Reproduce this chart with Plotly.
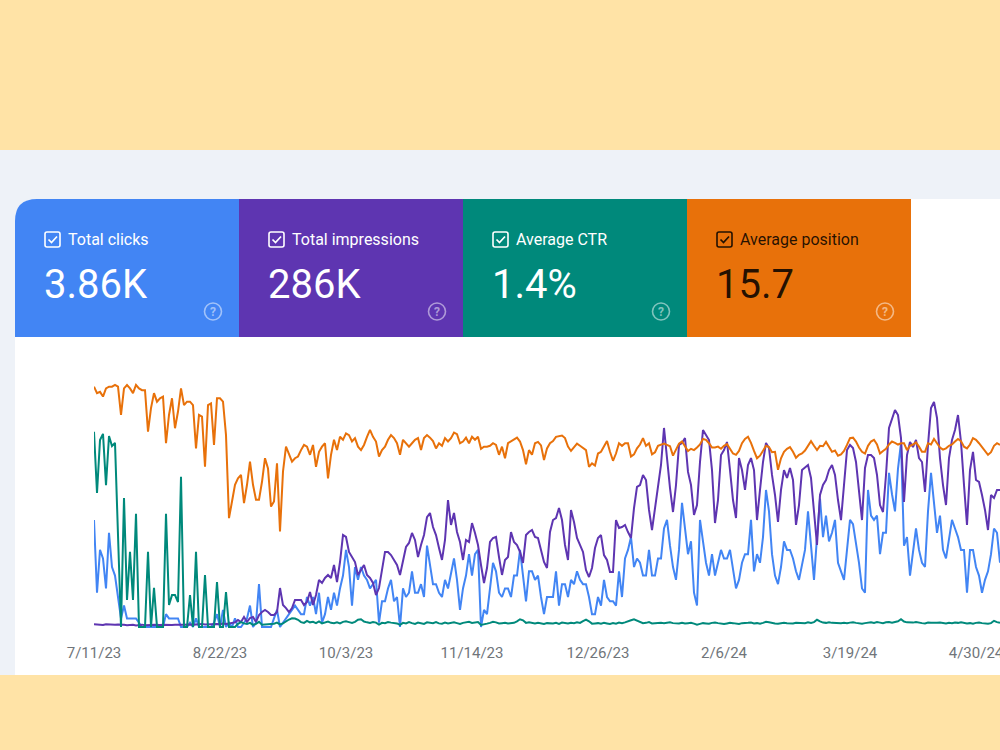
import pandas as pd
import plotly.graph_objects as go

# ---------------- data (daily, starting 7/11/23) ----------------
START_DATE = "2023-07-11"
END_DATE = "2024-05-08"

clicks = [
    25, 8, 18, 16, 9, 22, 14, 12, 7, 2,
    5, 2, 2, 2, 2, 1, 0, 0, 0, 0,
    0, 0, 0, 0, 3, 2, 2, 2, 2, 0,
    0, 0, 1, 0, 2, 0, 0, 0, 0, 0,
    1, 3, 0, 4, 0, 1, 0, 2, 0, 0,
    1, 2, 5, 0, 1, 10, 0, 0, 0, 0,
    2, 4, 0, 1, 2, 3, 4, 5, 4, 3,
    3, 7, 5, 7, 3, 8, 1, 3, 7, 4,
    8, 5, 9, 12, 18, 14, 5, 14, 11, 14,
    12, 11, 9, 10, 11, 1, 6, 6, 9, 11,
    6, 7, 0, 9, 7, 8, 13, 8, 8, 10,
    7, 19, 14, 10, 10, 8, 7, 11, 9, 13,
    16, 11, 4, 9, 12, 17, 12, 17, 18, 0,
    4, 3, 9, 15, 13, 8, 7, 9, 9, 7,
    12, 12, 18, 12, 6, 13, 13, 11, 12, 7,
    3, 7, 7, 7, 13, 5, 10, 10, 7, 11,
    10, 13, 11, 10, 10, 7, 3, 3, 7, 5,
    11, 7, 6, 6, 5, 13, 7, 16, 18, 21,
    14, 16, 15, 12, 12, 18, 12, 12, 16, 16,
    23, 25, 19, 14, 11, 18, 29, 23, 17, 20,
    8, 5, 25, 20, 15, 12, 17, 12, 15, 18,
    16, 16, 18, 13, 9, 11, 15, 17, 17, 25,
    13, 17, 15, 21, 32, 27, 17, 12, 10, 14,
    20, 18, 18, 16, 13, 11, 15, 18, 27, 18,
    11, 21, 30, 21, 26, 20, 22, 25, 15, 13,
    11, 18, 25, 24, 20, 15, 9, 8, 32, 26,
    25, 26, 17, 22, 22, 36, 31, 27, 37, 43,
    19, 21, 12, 18, 23, 18, 15, 14, 27, 36,
    28, 22, 26, 18, 16, 20, 25, 23, 21, 18,
    18, 8, 18, 18, 14, 12, 8, 11, 13, 17,
    23, 22, 15,
]

impressions = [
    25, 22, 24, 18, 26, 22, 17, 20, 24, 19,
    21, 17, 19, 20, 15, 19, 22, 17, 15, 19,
    20, 17, 19, 22, 20, 17, 19, 21, 24, 20,
    22, 26, 24, 20, 22, 26, 29, 24, 27, 26,
    31, 29, 26, 33, 28, 35, 38, 43,
    65, 47, 93, 47, 84, 93, 47, 112, 140, 159,
    140, 112, 112, 140, 364, 205, 177, 140, 177, 252,
    252, 252, 205, 234, 327, 205, 299, 439, 411, 458,
    486, 458, 579, 420, 607, 859, 841, 701, 654, 607,
    486, 532, 579, 486, 458, 411, 299, 364, 514, 701,
    701, 672, 626, 579, 486, 626, 747, 785, 878, 813,
    654, 766, 859, 1027, 1065, 934, 859, 738, 626, 813,
    1186, 953, 1065, 887, 794, 626, 813, 794, 971, 878,
    766, 579, 411, 551, 794, 831, 841, 654, 486, 626,
    654, 887, 794, 766, 701, 598, 859, 887, 906, 841,
    831, 719,
    607, 551, 887, 999, 1018, 1111, 999, 766, 626, 1093,
    981, 831, 766, 701, 532, 467, 551, 738, 831, 859,
    672, 626, 514, 514, 999, 925, 934, 953, 887, 831,
    1111, 1308, 1326, 1420, 1373, 1093, 906, 1111, 1280, 1513,
    1859, 1560, 1298, 1074, 1326, 1700, 1719, 1765,
    1448, 1326, 1046, 1139, 1541, 1840, 1793, 1747, 1466, 971,
    1186, 1606, 1653, 1728, 1466, 1186, 1018, 1578, 1466, 1280,
    1513, 1578, 1466, 999, 1280, 1541, 1719, 1672, 1420, 1233,
    981, 1280, 1466, 1392, 1485, 1373, 953, 1139, 1466, 1494,
    1513, 1392, 1046, 766, 1233, 1326, 1373, 1466, 1513, 1420,
    1186, 999, 1326, 1653, 1700, 1672, 1541, 1298, 999, 1485,
    1606, 1606, 1578, 1420, 1139, 1074, 1420, 1859, 1952, 2027,
    1980, 1765, 1168, 1606, 1728, 1681, 1747, 1578, 1541, 1261,
    1700, 2045, 2102, 1952, 1578, 1326, 1139, 1578, 1747, 1840,
    1980, 1728, 1326, 953, 1466, 1635, 1373, 1355, 1233, 1093,
    906, 1233, 1205, 1280, 1280,
]

ctr = [
    75.9, 52.1, 72.7, 75.1, 55.2, 74.3, 70.4, 71.6, 35.8, 0,
    50.2, 10.5, 29.2, 10.5, 44.0, 0, 0, 0, 29.2, 0,
    15.2, 0, 0, 0, 44.0, 8.6, 12.4, 12.4, 9.7, 58.4,
    0, 0, 12.4, 0, 29.2, 0, 0, 20.2, 0, 0,
    0, 17.5, 0, 0, 13.6, 0, 0, 0, 1.2, 1.9,
    1.4, 1.2, 1.6, 0.8, 1.2, 2.0, 0.9, 1.0, 1.1, 1.2,
    1.3, 1.7, 1.0, 1.4, 2.2, 2.9, 3.4, 3.3, 2.8, 1.9,
    1.6, 2.4, 1.8, 2.0, 1.5, 2.2, 1.4, 1.7, 2.1, 1.6,
    1.5, 1.8, 1.4, 2.0, 2.2, 1.9, 1.6, 2.0, 2.8, 3.0,
    2.1, 1.8, 1.6, 1.9, 1.7, 0.9, 1.6, 1.5, 1.9, 1.7,
    1.5, 1.4, 0.8, 1.6, 1.4, 1.9, 1.5, 1.2, 1.7, 1.4,
    1.2, 1.8, 1.6, 1.5, 1.9, 1.4, 1.3, 1.7, 1.4, 1.6,
    1.8, 1.5, 1.2, 1.6, 1.7, 2.0, 1.6, 1.8, 1.9, 0.8,
    1.2, 1.3, 1.6, 2.0, 1.8, 1.4, 1.5, 1.6, 1.4, 1.5,
    1.6, 2.2, 3.0, 2.6, 1.6, 1.8, 1.5, 1.4, 1.6, 1.3,
    1.2, 1.5, 1.3, 1.4, 1.6, 1.2, 1.7, 1.5, 1.4, 1.6,
    1.5, 1.8, 1.6, 2.3, 2.9, 2.2, 1.3, 1.4, 1.5, 1.3,
    1.6, 1.4, 1.2, 1.5, 1.3, 1.7, 1.5, 1.8, 2.1, 2.6,
    3.0, 2.5, 1.8, 1.5, 1.6, 1.9, 1.4, 1.5, 1.7, 1.6,
    1.5, 1.6, 1.8, 1.5, 1.3, 1.4, 1.6, 1.4, 1.5, 1.6,
    1.3, 0.9, 1.2, 1.5, 1.4, 1.3, 1.6, 1.7, 1.5, 1.3,
    1.2, 1.4, 1.6, 1.5, 1.3, 1.2, 1.5, 1.7, 1.6, 1.7,
    1.4, 1.5, 1.3, 1.6, 2.0, 1.8, 1.5, 1.4, 1.3, 1.5,
    1.6, 1.5, 1.3, 1.4, 1.6, 1.5, 1.4, 1.5, 1.8, 1.6,
    1.9, 2.8, 2.2, 1.7, 1.6, 1.8, 1.6, 1.5, 1.4, 1.5,
    1.6, 1.5, 1.7, 1.8, 1.6, 1.4, 1.3, 1.5, 1.7, 1.8,
    1.6, 1.9, 1.7, 1.5, 1.8, 1.9, 1.7, 2.0, 2.2, 3.0,
    2.1, 1.8, 1.6, 1.7, 1.9, 1.6, 1.5, 1.4, 1.7, 1.6,
    1.5, 1.6, 1.7, 1.5, 1.4, 1.6, 1.5, 1.7, 1.6, 1.8,
    1.6, 1.4, 1.5, 1.3, 1.6, 1.7, 1.5, 1.4, 1.3, 1.5,
    2.4, 1.9, 1.6,
]

position = [
    3.9, 5.4, 5.1, 6.2, 4.3, 3.9, 3.9, 3.5, 3.9, 10.5,
    4.3, 3.5, 4.3, 5.4, 3.5, 4.3, 4.7, 4.7, 14.4, 8.9,
    5.4, 7.4, 6.6, 6.2, 17.1, 10.5, 6.6, 13.6, 9.7, 4.3,
    8.2, 7.4, 7.4, 8.2, 18.3, 10.5, 10.9, 22.6, 8.2, 7.8,
    17.5, 6.6, 6.6, 7.4, 15.2, 34.6, 30.7, 26.8, 25.3, 24.5,
    31.1, 26.8, 21.4, 26.8, 30.3, 30.3, 26.1, 20.6, 23.0, 31.9,
    30.7, 21.8, 37.7, 23.7, 17.9, 19.5, 21.4, 20.6, 20.2, 18.7,
    17.5, 17.9, 19.8, 17.5, 22.6, 19.1, 17.9, 17.1, 25.3, 19.8,
    16.3, 18.7, 15.6, 16.3, 14.8, 15.2, 16.7, 15.9, 17.9, 18.7,
    17.5, 15.6, 14.0, 15.6, 16.7, 20.2, 18.7, 17.9, 16.3, 15.2,
    15.9, 17.1, 19.8, 16.3, 17.1, 17.9, 17.1, 16.3, 15.9, 18.7,
    15.9, 15.2, 15.8, 16.6, 18.3, 17.1, 17.7, 15.9, 16.7, 15.9,
    14.6, 15.0, 17.1, 16.7, 15.8, 17.1, 15.6, 16.3, 15.6, 18.4,
    17.9, 17.9, 17.7, 17.1, 17.5, 19.8, 17.9, 20.6, 17.1, 16.7,
    16.3, 15.8, 16.7, 18.7, 22.0, 18.7, 19.8, 17.1, 16.8, 17.6,
    21.0, 18.3, 17.1, 16.6, 15.6, 15.4, 15.3, 15.9, 17.9, 18.9,
    17.9, 17.2, 17.7, 18.3, 18.7, 22.6, 21.8, 22.3, 19.5, 19.1,
    17.9, 16.6, 19.1, 21.2, 19.5, 17.1, 17.7, 17.1, 17.1, 20.2,
    19.7, 18.3, 17.4, 15.9, 17.7, 17.1, 19.7, 19.2, 17.7, 17.5,
    17.2, 17.5, 17.8, 20.0, 18.4, 17.2, 16.7, 17.7, 18.9, 18.4,
    18.7, 18.1, 17.4, 16.1, 16.3, 17.1, 18.1, 18.1, 17.9, 18.4,
    17.7, 17.3, 18.4, 19.5, 19.8, 18.9, 17.1, 16.1, 15.6, 17.0,
    18.9, 20.6, 20.0, 18.9, 17.7, 18.0, 19.2, 19.1, 23.3, 20.6,
    19.1, 18.4, 18.0, 19.1, 20.5, 19.8, 19.5, 18.8, 17.7, 16.6,
    17.7, 18.7, 17.7, 17.8, 16.8, 18.0, 19.1, 18.8, 20.0, 19.7,
    18.9, 17.5, 15.9, 15.8, 16.7, 18.1, 19.1, 19.5, 17.7, 16.7,
    16.3, 17.4, 19.5, 18.9, 18.4, 17.4, 16.7, 17.0, 17.4, 17.1,
    17.1, 18.7, 17.7, 17.4, 16.9, 17.9, 19.1, 19.1, 17.1, 17.4,
    16.1, 17.1, 18.1, 18.6, 18.3, 17.7, 17.4, 16.7, 16.1, 16.6,
    17.9, 18.3, 17.4, 15.9, 16.3, 17.1, 18.1, 18.9, 19.8, 19.2,
    17.7, 17.1, 17.5,
]

# summary tiles
tile_labels = ["Total clicks", "Total impressions", "Average CTR", "Average position"]
tile_values = ["3.86K", "286K", "1.4%", "15.7"]
tile_colors = ["#4285F4", "#5E35B1", "#00897B", "#E8710A"]
tile_text_colors = ["#FFFFFF", "#FFFFFF", "#FFFFFF", "rgba(0,0,0,0.85)"]

TICK_START = "2023-07-11"
TICK_STEP_DAYS = 42

# ---------------- figure ----------------
W, H = 1000, 750
YELLOW = "#FFE3A6"
BAND = "#EEF2F8"


def px(x):
    return x / W


def py(y):
    return 1 - y / H


dates = pd.date_range(START_DATE, periods=len(clicks), freq="D")

fig = go.Figure()
series = [
    (clicks, "Clicks", "#4285F4", "y"),
    (impressions, "Impressions", "#5E35B1", "y2"),
    (ctr, "CTR", "#00897B", "y3"),
    (position, "Position", "#E8710A", "y4"),
]
for vals, name, col, yax in series:
    fig.add_trace(go.Scatter(
        x=dates, y=vals, name=name, mode="lines", yaxis=yax,
        line=dict(color=col, width=2), hoverinfo="skip", showlegend=False,
    ))

shapes = []
shapes.append(dict(type="rect", xref="paper", yref="paper", layer="below",
                   x0=0, x1=1, y0=py(675), y1=py(150),
                   fillcolor=BAND, line=dict(width=0)))
R = 22
card = (f"M {px(15)},{py(675)} L {px(15)},{py(199 + R)} "
        f"Q {px(15)},{py(199)} {px(15 + R)},{py(199)} "
        f"L {px(1000)},{py(199)} L {px(1000)},{py(675)} Z")
shapes.append(dict(type="path", path=card, xref="paper", yref="paper", layer="below",
                   fillcolor="#FFFFFF", line=dict(width=0)))

TILE_X = [15, 239, 463, 687, 911]
TOP, BOT = 199, 337
for i in range(4):
    x0, x1 = TILE_X[i], TILE_X[i + 1]
    if i == 0:
        p = (f"M {px(x0)},{py(BOT)} L {px(x0)},{py(TOP + R)} "
             f"Q {px(x0)},{py(TOP)} {px(x0 + R)},{py(TOP)} "
             f"L {px(x1)},{py(TOP)} L {px(x1)},{py(BOT)} Z")
    else:
        p = (f"M {px(x0)},{py(BOT)} L {px(x0)},{py(TOP)} "
             f"L {px(x1)},{py(TOP)} L {px(x1)},{py(BOT)} Z")
    shapes.append(dict(type="path", path=p, xref="paper", yref="paper", layer="below",
                       fillcolor=tile_colors[i], line=dict(width=0)))

annotations = []
for i in range(4):
    off = 224 * i
    tc = tile_text_colors[i]
    cx0, cx1, cy0, cy1 = 45 + off, 60 + off, 232, 247
    r = 2
    box = (f"M {px(cx0 + r)},{py(cy0)} L {px(cx1 - r)},{py(cy0)} "
           f"Q {px(cx1)},{py(cy0)} {px(cx1)},{py(cy0 + r)} "
           f"L {px(cx1)},{py(cy1 - r)} Q {px(cx1)},{py(cy1)} {px(cx1 - r)},{py(cy1)} "
           f"L {px(cx0 + r)},{py(cy1)} Q {px(cx0)},{py(cy1)} {px(cx0)},{py(cy1 - r)} "
           f"L {px(cx0)},{py(cy0 + r)} Q {px(cx0)},{py(cy0)} {px(cx0 + r)},{py(cy0)} Z")
    shapes.append(dict(type="path", path=box, xref="paper", yref="paper",
                       line=dict(color=tc, width=1.6)))
    check = (f"M {px(48.5 + off)},{py(239.5)} L {px(51.5 + off)},{py(242.5)} "
             f"L {px(57 + off)},{py(236.5)}")
    shapes.append(dict(type="path", path=check, xref="paper", yref="paper",
                       line=dict(color=tc, width=1.7)))
    hc = "rgba(255,255,255,0.5)"
    shapes.append(dict(type="circle", xref="paper", yref="paper",
                       x0=px(204.5 + off), x1=px(221.5 + off),
                       y0=py(320), y1=py(303),
                       line=dict(color=hc, width=1.6)))
    annotations.append(dict(x=px(213 + off), y=py(311.5), xref="paper", yref="paper",
                            text="?", showarrow=False, xanchor="center", yanchor="middle",
                            font=dict(family="Roboto", size=12, color=hc, weight=700)))
    annotations.append(dict(x=px(66 + off), y=py(239), xref="paper", yref="paper",
                            text=tile_labels[i], showarrow=False,
                            xanchor="left", yanchor="middle",
                            font=dict(family="Roboto", size=16, color=tc)))
    annotations.append(dict(x=px(42 + off), y=py(284), xref="paper", yref="paper",
                            text=tile_values[i], showarrow=False,
                            xanchor="left", yanchor="middle",
                            font=dict(family="Roboto", size=40, color=tc)))

PLOT_TOP, PLOT_BOT = 365, 632
ydom = [py(PLOT_BOT), py(PLOT_TOP)]
hidden = dict(visible=False, showgrid=False, zeroline=False, fixedrange=True,
              automargin=False)

fig.update_layout(
    width=W, height=H,
    margin=dict(l=0, r=0, t=0, b=0, autoexpand=False),
    paper_bgcolor=YELLOW,
    plot_bgcolor="rgba(0,0,0,0)",
    shapes=shapes,
    annotations=annotations,
    xaxis=dict(
        domain=[px(94), 1.0],
        type="date",
        range=[START_DATE, END_DATE],
        automargin=False,
        showgrid=False, zeroline=False, showline=False, ticks="",
        tick0=TICK_START, dtick=TICK_STEP_DAYS * 86400000,
        tickformat="%-m/%-d/%y",
        tickfont=dict(family="Roboto", size=15, color="#70757A"),
        ticklabeloverflow="allow",
        ticklabelstandoff=10,
    ),
    yaxis=dict(domain=ydom, range=[-1.17, 61.18], **hidden),
    yaxis2=dict(overlaying="y", range=[-46.7, 2447], **hidden),
    yaxis3=dict(overlaying="y", range=[-1.95, 101.9], **hidden),
    yaxis4=dict(overlaying="y", range=[61.18, -1.17], **hidden),
)

fig.write_html("out.html")
